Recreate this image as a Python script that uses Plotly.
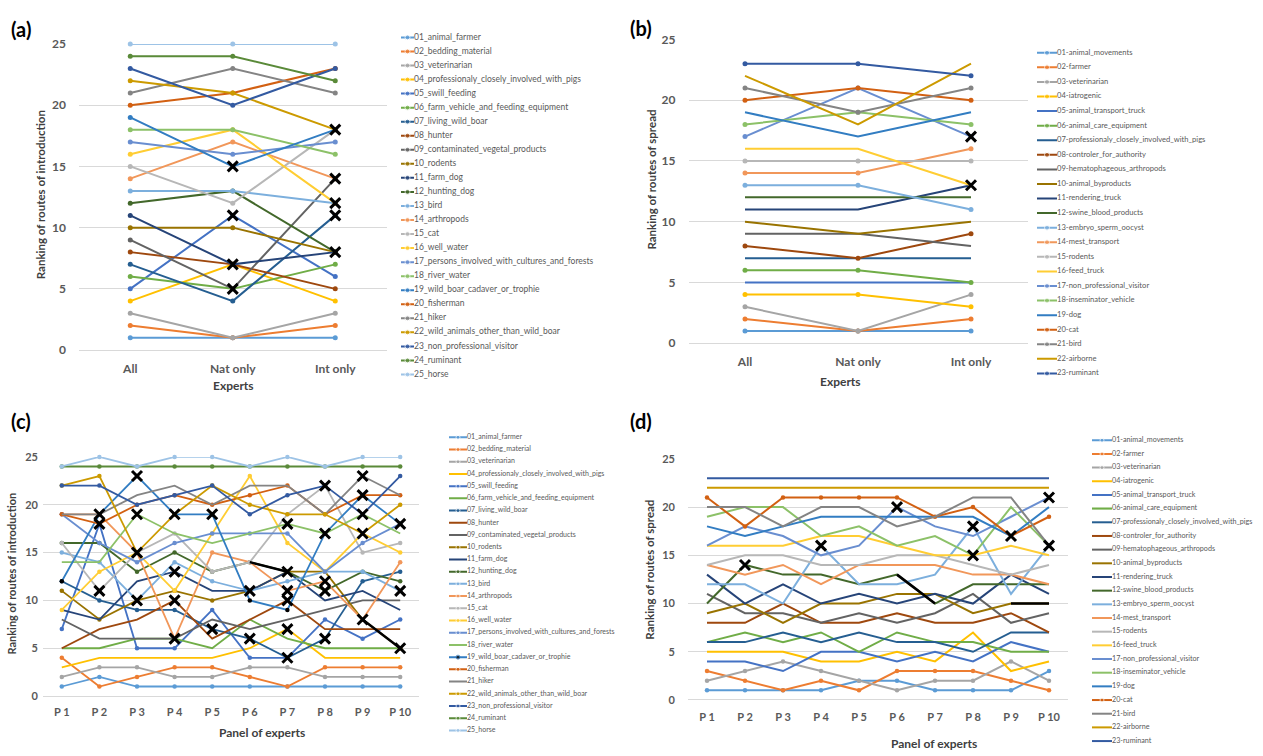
import plotly.graph_objects as go

W, H = 1263, 756
FONT = "Lato"
TXT = "#595959"
GRID = "#D9D9D9"

colors = ["#5B9BD5", "#ED7D31", "#A5A5A5", "#FFC000", "#4472C4", "#70AD47", "#255E91", "#9E480E",
          "#636363", "#997300", "#264478", "#43682B", "#7CAFDD", "#F1975A", "#B7B7B7", "#FFCD33",
          "#698ED0", "#8CC168", "#327DC2", "#D26012", "#848484", "#CC9A00", "#335AA1", "#5A8A39",
          "#9DC3E6"]

# ---------------- Panel (a): routes of introduction, groups of experts
experts = ["All", "Nat only", "Int only"]
names_intro = ["01_animal_farmer", "02_bedding_material", "03_veterinarian",
               "04_professionaly_closely_involved_with_pigs", "05_swill_feeding",
               "06_farm_vehicle_and_feeding_equipment", "07_living_wild_boar", "08_hunter",
               "09_contaminated_vegetal_products", "10_rodents", "11_farm_dog", "12_hunting_dog",
               "13_bird", "14_arthropods", "15_cat", "16_well_water",
               "17_persons_involved_with_cultures_and_forests", "18_river_water",
               "19_wild_boar_cadaver_or_trophie", "20_fisherman", "21_hiker",
               "22_wild_animals_other_than_wild_boar", "23_non_professional_visitor",
               "24_ruminant", "25_horse"]
rank_all_a = [1, 2, 3, 4, 5, 6, 7, 8, 9, 10, 11, 12, 13, 14, 15, 16, 17, 18, 19, 20, 21, 22, 23, 24, 25]
rank_nat_a = [1, 1, 1, 7, 11, 5, 4, 7, 5, 10, 7, 13, 13, 17, 12, 18, 16, 18, 15, 21, 23, 21, 20, 24, 25]
rank_int_a = [1, 2, 3, 4, 6, 7, 11, 5, 14, 8, 8, 8, 12, 14, 18, 12, 17, 16, 18, 23, 21, 18, 23, 22, 25]
marker_a = [1] * 25
xmark_a_cat = ["Nat only", "Nat only", "Nat only", "Nat only",
               "Int only", "Int only", "Int only", "Int only", "Int only"]
xmark_a_val = [15, 11, 7, 5, 18, 14, 12, 11, 8]

# ---------------- Panel (b): routes of spread, groups of experts
names_spread = ["01-animal_movements", "02-farmer", "03-veterinarian", "04-iatrogenic",
                "05-animal_transport_truck", "06-animal_care_equipment",
                "07-professionaly_closely_involved_with_pigs", "08-controler_for_authority",
                "09-hematophageous_arthropods", "10-animal_byproducts", "11-rendering_truck",
                "12-swine_blood_products", "13-embryo_sperm_oocyst", "14-mest_transport",
                "15-rodents", "16-feed_truck", "17-non_professional_visitor",
                "18-inseminator_vehicle", "19-dog", "20-cat", "21-bird", "22-airborne",
                "23-ruminant"]
rank_all_b = [1, 2, 3, 4, 5, 6, 7, 8, 9, 10, 11, 12, 13, 14, 15, 16, 17, 18, 19, 20, 21, 22, 23]
rank_nat_b = [1, 1, 1, 4, 5, 6, 7, 7, 9, 9, 11, 12, 13, 14, 15, 16, 21, 19, 17, 21, 19, 18, 23]
rank_int_b = [1, 2, 4, 3, 5, 5, 7, 9, 8, 10, 13, 12, 11, 16, 15, 13, 17, 18, 19, 20, 21, 23, 22]
marker_b = [1, 1, 1, 1, 0, 1, 0, 1, 0, 0, 0, 0, 1, 1, 1, 0, 1, 1, 0, 1, 1, 0, 1]
xmark_b_cat = ["Int only", "Int only"]
xmark_b_val = [17, 13]

# ---------------- Panel (c): routes of introduction, each panel of experts
panels = ["P 1", "P 2", "P 3", "P 4", "P 5", "P 6", "P 7", "P 8", "P 9", "P 10"]
c01 = [1, 2, 1, 1, 1, 1, 1, 1, 1, 1]
c02 = [4, 1, 2, 3, 3, 2, 1, 3, 3, 3]
c03 = [2, 3, 3, 2, 2, 3, 3, 2, 2, 2]
c04 = [3, 4, 4, 4, 4, 5, 7, 4, 4, 4]
c05 = [7, 18, 5, 5, 9, 4, 4, 8, 6, 8]
c06 = [5, 5, 6, 6, 5, 8, 6, 5, 5, 5]
c07 = [12, 10, 9, 9, 7, 6, 4, 6, 12, 13]
c08 = [5, 7, 8, 10, 6, 8, 10, 7, 7, 7]
c09 = [8, 6, 6, 6, 8, 7, 8, 9, 10, 10]
c10 = [11, 8, 10, 11, 10, 11, 13, 13, 8, 5]
c11 = [9, 8, 12, 13, 11, 11, 13, 10, 11, 9]
c12 = [16, 16, 13, 15, 13, 14, 13, 11, 13, 12]
c13 = [15, 14, 10, 14, 12, 11, 12, 13, 13, 11]
c14 = [19, 19, 15, 6, 15, 14, 11, 12, 8, 14]
c15 = [16, 11, 15, 17, 13, 14, 19, 22, 15, 16]
c16 = [9, 13, 15, 11, 17, 23, 16, 13, 17, 15]
c17 = [19, 16, 14, 16, 17, 17, 17, 13, 16, 18]
c18 = [14, 14, 19, 17, 16, 17, 18, 17, 19, 17]
c19 = [12, 19, 23, 19, 19, 10, 9, 17, 21, 18]
c20 = [19, 18, 20, 21, 20, 21, 22, 19, 21, 21]
c21 = [19, 19, 21, 22, 20, 22, 22, 19, 23, 21]
c22 = [22, 23, 15, 19, 22, 20, 19, 19, 17, 20]
c23 = [22, 22, 20, 21, 22, 19, 21, 22, 19, 23]
c24 = [24, 24, 24, 24, 24, 24, 24, 24, 24, 24]
c25 = [24, 25, 24, 25, 25, 24, 25, 24, 25, 25]
marker_c = [1, 1, 1, 0, 1, 0, 1, 0, 0, 1, 0, 1, 1, 1, 1, 1, 1, 0, 1, 1, 0, 1, 1, 1, 1]
black_c = [(11, 5), (9, 8)]
xmark_c_cat = ["P 2", "P 2", "P 2", "P 3", "P 3", "P 3", "P 3", "P 4", "P 4", "P 4", "P 4",
               "P 5", "P 5", "P 6", "P 6", "P 7", "P 7", "P 7", "P 7", "P 7", "P 7",
               "P 8", "P 8", "P 8", "P 8", "P 8", "P 9", "P 9", "P 9", "P 9", "P 9",
               "P 10", "P 10", "P 10"]
xmark_c_val = [19, 18, 11, 23, 19, 15, 10, 19, 13, 10, 6, 19, 7, 11, 6, 18, 13, 11, 10, 7, 4,
               22, 17, 12, 11, 6, 23, 21, 19, 17, 8, 18, 11, 5]

# ---------------- Panel (d): routes of spread, each panel of experts
d01 = [1, 1, 1, 1, 2, 2, 1, 1, 1, 3]
d02 = [3, 2, 1, 2, 1, 3, 3, 3, 2, 1]
d03 = [2, 3, 4, 3, 2, 1, 2, 2, 4, 2]
d04 = [5, 5, 5, 4, 4, 5, 4, 7, 3, 4]
d05 = [4, 4, 3, 5, 5, 4, 5, 4, 6, 5]
d06 = [6, 7, 6, 7, 5, 7, 6, 6, 5, 5]
d07 = [6, 6, 7, 6, 7, 6, 6, 5, 7, 7]
d08 = [8, 8, 10, 8, 8, 9, 8, 8, 9, 7]
d09 = [11, 9, 9, 8, 9, 8, 9, 11, 8, 9]
d10 = [9, 10, 8, 10, 10, 11, 11, 9, 10, 10]
d11 = [13, 10, 12, 10, 11, 10, 11, 10, 13, 11]
d12 = [10, 14, 13, 13, 12, 13, 10, 12, 12, 12]
d13 = [12, 12, 10, 16, 12, 12, 13, 18, 11, 16]
d14 = [14, 13, 14, 12, 14, 14, 14, 13, 13, 12]
d15 = [14, 15, 15, 14, 14, 15, 15, 14, 13, 14]
d16 = [16, 16, 16, 17, 17, 16, 15, 15, 16, 15]
d17 = [16, 18, 17, 15, 16, 20, 18, 17, 19, 21]
d18 = [19, 20, 20, 17, 18, 16, 17, 15, 20, 16]
d19 = [18, 17, 18, 19, 19, 19, 19, 19, 17, 20]
d20 = [21, 18, 21, 21, 21, 21, 19, 20, 17, 19]
d21 = [20, 20, 18, 20, 20, 18, 19, 21, 21, 16]
d22 = [22, 22, 22, 22, 22, 22, 22, 22, 22, 22]
d23 = [23, 23, 23, 23, 23, 23, 23, 23, 23, 23]
marker_d = [1, 1, 1, 0, 0, 0, 0, 0, 0, 0, 0, 0, 0, 0, 0, 0, 0, 0, 0, 1, 0, 0, 0]
black_d = [(11, 5), (9, 8)]
xmark_d_cat = ["P 2", "P 4", "P 6", "P 8", "P 8", "P 9", "P 10", "P 10"]
xmark_d_val = [14, 16, 20, 18, 15, 17, 21, 16]

series_a = [[rank_all_a[i], rank_nat_a[i], rank_int_a[i]] for i in range(25)]
series_b = [[rank_all_b[i], rank_nat_b[i], rank_int_b[i]] for i in range(23)]
series_c = [c01, c02, c03, c04, c05, c06, c07, c08, c09, c10, c11, c12, c13, c14, c15, c16,
            c17, c18, c19, c20, c21, c22, c23, c24, c25]
series_d = [d01, d02, d03, d04, d05, d06, d07, d08, d09, d10, d11, d12, d13, d14, d15, d16,
            d17, d18, d19, d20, d21, d22, d23]
mcol_c = list(colors)
mcol_c[18] = "#000000"


def dom_x(p0, p1):
    return [p0 / W, p1 / W]


def dom_y(top, bottom):
    return [1 - bottom / H, 1 - top / H]


fig = go.Figure()
layout = {}


def add_panel(k, cats, series, mflags, mcols, box, lw, ms, black, xm_cat, xm_val,
              tick_size, ystand, xstand):
    xa, ya = ("x", "y") if k == 1 else (f"x{k}", f"y{k}")
    xk, yk = ("xaxis", "yaxis") if k == 1 else (f"xaxis{k}", f"yaxis{k}")
    x0, x1, top, bottom = box
    tf = dict(family=FONT, size=tick_size, color=TXT, weight="bold")
    layout[xk] = dict(domain=dom_x(x0, x1), type="category", categoryarray=cats,
                      range=[-0.5, len(cats) - 0.5], showgrid=False, zeroline=False,
                      showline=False, ticks="", tickfont=tf, anchor=ya,
                      ticklabelstandoff=xstand, fixedrange=True)
    layout[yk] = dict(domain=dom_y(top, bottom), range=[0, 25], tick0=0, dtick=5,
                      showgrid=True, gridcolor=GRID, gridwidth=1, zeroline=True,
                      zerolinecolor=GRID, zerolinewidth=1, showline=False, ticks="",
                      tickfont=tf, anchor=xa, ticklabelstandoff=ystand, fixedrange=True)
    for i, vals in enumerate(series):
        fig.add_trace(go.Scatter(
            x=cats, y=vals, mode="lines+markers" if mflags[i] else "lines",
            line=dict(color=colors[i], width=lw),
            marker=dict(size=ms, color=mcols[i]),
            xaxis=xa, yaxis=ya, showlegend=False, hoverinfo="skip", cliponaxis=False))
    for (i, j) in black:
        fig.add_trace(go.Scatter(
            x=[cats[j], cats[j + 1]], y=[series[i][j], series[i][j + 1]], mode="lines",
            line=dict(color="#000000", width=lw + 0.6),
            xaxis=xa, yaxis=ya, showlegend=False, hoverinfo="skip"))
    fig.add_trace(go.Scatter(
        x=xm_cat, y=xm_val, mode="markers",
        marker=dict(symbol="x-thin", size=10, line=dict(color="#000000", width=3)),
        xaxis=xa, yaxis=ya, showlegend=False, hoverinfo="skip", cliponaxis=False))


def add_legend(k, names, mflags, mcols, x0, x1, first, step, fsize, lw, ms):
    xa, ya = f"x{k}", f"y{k}"
    n = len(names)
    top = first - step / 2
    bottom = first + step * (n - 1) + step / 2
    layout[f"xaxis{k}"] = dict(domain=dom_x(x0, x1), range=[0, 1], visible=False,
                               anchor=ya, fixedrange=True)
    layout[f"yaxis{k}"] = dict(domain=dom_y(top, bottom), range=[n - 0.5, -0.5],
                               visible=False, anchor=xa, fixedrange=True)
    for i in range(n):
        fig.add_trace(go.Scatter(
            x=[0, 0.5, 1], y=[i, i, i], mode="lines+markers",
            line=dict(color=colors[i], width=lw),
            marker=dict(size=[0, ms if mflags[i] else 0, 0], color=mcols[i]),
            xaxis=xa, yaxis=ya, showlegend=False, hoverinfo="skip", cliponaxis=False))
    fig.add_trace(go.Scatter(
        x=[1] * n, y=list(range(n)), text=names, mode="text", textposition="middle right",
        textfont=dict(family=FONT, size=fsize, color=TXT),
        xaxis=xa, yaxis=ya, showlegend=False, hoverinfo="skip", cliponaxis=False))


add_panel(1, experts, series_a, marker_a, colors, (79, 386.5, 36.7, 349), 2, 5, [],
          xmark_a_cat, xmark_a_val, 12, 12, 10)
add_panel(2, experts, series_b, marker_b, colors, (688.5, 1027.5, 32, 342), 2, 5, [],
          xmark_b_cat, xmark_b_val, 12, 12, 10)
add_panel(3, panels, series_c, marker_c, mcol_c, (43, 419, 458, 702), 1.8, 4.5, black_c,
          xmark_c_cat, xmark_c_val, 11, 4, 8)
add_panel(4, panels, series_d, marker_d, colors, (688, 1068, 460, 706), 2, 4.5, black_d,
          xmark_d_cat, xmark_d_val, 11, 12, 9)

add_legend(5, names_intro, marker_a, colors, 401, 414, 30, 14.33, 8.5, 2, 5)
add_legend(6, names_spread, marker_b, colors, 1037, 1057, 45.7, 14.87, 7.6, 2, 5)
add_legend(7, names_intro, marker_c, mcol_c, 449, 467, 438, 12.46, 7, 2, 4)
add_legend(8, names_spread, marker_d, colors, 1092, 1112, 441, 13.95, 7.2, 2, 4)


def ann(text, xpx, ypx, size, angle=0, color="#404040"):
    return dict(text=text, x=xpx / W, y=1 - ypx / H, xref="paper", yref="paper",
                showarrow=False, textangle=angle, xanchor="center", yanchor="middle",
                font=dict(family=FONT, size=size, color=color, weight="bold"))


annotations = [
    ann("(a)", 21, 21, 20, color="#000000"),
    ann("(b)", 641, 20, 20, color="#000000"),
    ann("(c)", 21, 421, 20, color="#000000"),
    ann("(d)", 641, 421, 20, color="#000000"),
    ann("Ranking of routes of introduction", 40, 190, 11.5, -90),
    ann("Experts", 233, 385, 12),
    ann("Ranking of routes of spread", 652, 175, 11.5, -90),
    ann("Experts", 840, 381, 12),
    ann("Ranking of routes of introduction", 12, 577, 11, -90),
    ann("Panel of experts", 262, 739, 12),
    ann("Ranking of routes of spread", 650, 573, 11.5, -90),
    ann("Panel of experts", 934, 750, 12),
]

fig.update_layout(
    width=W, height=H, margin=dict(l=0, r=0, t=0, b=0),
    paper_bgcolor="white", plot_bgcolor="white", showlegend=False,
    annotations=annotations, font=dict(family=FONT), **layout)

fig.write_html("out.html")
